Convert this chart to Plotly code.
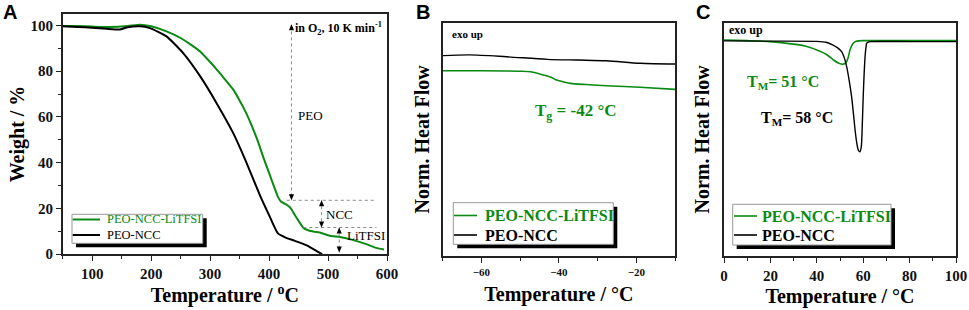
import plotly.graph_objects as go

# ---------------- data ----------------
# Panel A: TGA (weight % vs temperature °C)
tga_T_licf = [50, 75, 100, 130, 160, 181, 200, 226, 250, 266, 283, 300, 311, 320, 339, 350, 360, 370, 380, 390,
              400, 407, 415, 420, 428, 436, 445, 453, 458, 464, 475, 486, 503, 520, 540, 565, 580, 595]
tga_W_licf = [99.8, 99.7, 99.5, 99.3, 99.7, 100.3, 99.6, 97.4, 94.5, 91.8, 88.6, 84.0, 80.8, 78.0, 72.0, 67.2, 62.3, 56.5, 50.0, 42.5,
              35.5, 30.5, 25.0, 23.0, 21.8, 20.3, 16.5, 13.3, 11.5, 10.6, 9.8, 9.4, 8.0, 7.4, 6.3, 4.3, 2.8, 2.0]
tga_T_ncc = [50, 75, 100, 125, 147, 160, 181, 198, 226, 254, 283, 311, 339, 360, 384, 400, 415, 428, 441, 464, 486, 490]
tga_W_ncc = [99.6, 99.3, 99.0, 98.5, 98.2, 99.2, 99.6, 98.8, 95.2, 88.0, 77.8, 66.0, 53.0, 41.0, 26.0, 17.0, 9.0, 7.2, 6.0, 3.8, 0.5, 0.0]

# Panel B: DSC low temperature (normalized heat flow, arb. units)
dscB_T_licf = [-70, -60, -50, -47, -44, -42, -40.6, -38.5, -37, -33, -27.7, -19, -10]
dscB_H_licf = [7.94, 7.94, 7.92, 7.89, 7.76, 7.66, 7.54, 7.45, 7.40, 7.35, 7.30, 7.23, 7.14]
dscB_T_ncc = [-70, -63, -53.5, -43, -35, -27.7, -19, -10]
dscB_H_ncc = [8.59, 8.62, 8.54, 8.43, 8.40, 8.37, 8.26, 8.23]

# Panel C: DSC melting (normalized heat flow, arb. units)
dscC_T_licf = [0, 10, 20, 30, 35, 40, 44, 47, 49, 51, 52.5, 53.5, 54.3, 55.7, 57, 58, 60, 80, 100]
dscC_H_licf = [9.26, 9.23, 9.19, 9.08, 9.0, 8.83, 8.65, 8.42, 8.28, 8.22, 8.28, 8.5, 8.83, 9.12, 9.2, 9.22, 9.23, 9.23, 9.23]
dscC_T_ncc = [0, 20, 40, 44, 47, 49, 50.7, 52, 52.9, 54, 55, 56, 56.5, 57.3, 57.9, 58.6, 59.2, 59.6, 60, 60.4,
              60.8, 61.2, 61.5, 62.2, 63, 80, 100]
dscC_H_ncc = [9.22, 9.21, 9.2, 9.16, 9.04, 8.92, 8.76, 8.45, 8.11, 7.5, 6.83, 5.9, 5.4, 4.8, 4.54, 4.47, 4.7, 5.6, 6.83, 7.8,
              8.54, 8.95, 9.12, 9.17, 9.19, 9.19, 9.19]

series_names = ["PEO-NCC-LiTFSI", "PEO-NCC"]
x_titles = ["Temperature / <sup>o</sup>C", "Temperature / °C", "Temperature / °C"]
y_titles = ["Weight / %", "Norm. Heat Flow", "Norm. Heat Flow"]

# ---------------- style ----------------
W_FIG, H_FIG = 969, 310
GREEN = "#0a8a12"
BLACK = "#000000"
SERIF = "Liberation Serif"
SANS = "Liberation Sans"
AX = "#222222"
TITLE_FONT = dict(family=SERIF, size=20, color="#000", weight="bold")


def X(px):
    return px / W_FIG


def Y(py):
    return 1 - py / H_FIG


fig = go.Figure()

# Panel A traces
fig.add_trace(go.Scatter(x=tga_T_licf, y=tga_W_licf, mode="lines", name=series_names[0],
                         line=dict(color=GREEN, width=2, shape="spline", smoothing=0.5),
                         xaxis="x", yaxis="y", showlegend=False))
fig.add_trace(go.Scatter(x=tga_T_ncc, y=tga_W_ncc, mode="lines", name=series_names[1],
                         line=dict(color=BLACK, width=2, shape="spline", smoothing=0.5),
                         xaxis="x", yaxis="y", showlegend=False))
# Panel B traces
fig.add_trace(go.Scatter(x=dscB_T_licf, y=dscB_H_licf, mode="lines", name=series_names[0],
                         line=dict(color=GREEN, width=1.6, shape="spline", smoothing=0.8),
                         xaxis="x2", yaxis="y2", showlegend=False))
fig.add_trace(go.Scatter(x=dscB_T_ncc, y=dscB_H_ncc, mode="lines", name=series_names[1],
                         line=dict(color=BLACK, width=1.4, shape="spline", smoothing=0.8),
                         xaxis="x2", yaxis="y2", showlegend=False))
# Panel C traces
fig.add_trace(go.Scatter(x=dscC_T_licf, y=dscC_H_licf, mode="lines", name=series_names[0],
                         line=dict(color=GREEN, width=1.6, shape="spline", smoothing=0.6),
                         xaxis="x3", yaxis="y3", showlegend=False))
fig.add_trace(go.Scatter(x=dscC_T_ncc, y=dscC_H_ncc, mode="lines", name=series_names[1],
                         line=dict(color=BLACK, width=1.4, shape="spline", smoothing=0.6),
                         xaxis="x3", yaxis="y3", showlegend=False))

common_x = dict(showline=True, linecolor=AX, linewidth=1.5, mirror=True, ticks="outside",
                ticklen=5, tickwidth=1.2, tickcolor=AX, showgrid=False, zeroline=False, automargin=False,
                tickfont=dict(family=SERIF, size=15, color="#111", weight="bold"))
plain_y = dict(showline=True, linecolor=AX, linewidth=1.5, mirror=True, ticks="", showticklabels=False,
               showgrid=False, zeroline=False, automargin=False)

fig.update_layout(
    template="none",
    width=W_FIG, height=H_FIG, margin=dict(l=0, r=0, t=0, b=0, pad=0, autoexpand=False),
    paper_bgcolor="white", plot_bgcolor="white",
    xaxis=dict(domain=[X(62.7), X(387)], range=[50, 600], anchor="y", tick0=0, dtick=100,
               minor=dict(dtick=50, ticks="outside", ticklen=3, tickcolor=AX),
               title=dict(text=x_titles[0], font=TITLE_FONT, standoff=7), **common_x),
    yaxis=dict(domain=[Y(254), Y(14)], range=[0, 105], anchor="x", tick0=0, dtick=20,
               minor=dict(dtick=10, ticks="outside", ticklen=3, tickcolor=AX),
               title=dict(text=y_titles[0], font=TITLE_FONT, standoff=0), **common_x),
    xaxis2=dict(domain=[X(442.7), X(675)], range=[-70, -10], anchor="y2", tick0=-60, dtick=20,
                minor=dict(dtick=10, ticks="outside", ticklen=3, tickcolor=AX),
                title=dict(text=x_titles[1], font=TITLE_FONT, standoff=10),
                **{**common_x, "tickfont": dict(family=SERIF, size=11, color="#111", weight="bold")}),
    yaxis2=dict(domain=[Y(256), Y(22.7)], range=[0, 10], anchor="x2",
                title=dict(text=y_titles[1], font=TITLE_FONT, standoff=6), **plain_y),
    xaxis3=dict(domain=[X(724), X(956)], range=[0, 100], anchor="y3", tick0=0, dtick=20,
                minor=dict(dtick=10, ticks="outside", ticklen=3, tickcolor=AX),
                title=dict(text=x_titles[2], font=TITLE_FONT, standoff=6), **common_x),
    yaxis3=dict(domain=[Y(256), Y(22.7)], range=[0, 10], anchor="x3",
                title=dict(text=y_titles[2], font=TITLE_FONT, standoff=7), **plain_y),
)

shapes = []
ann = []


def text(x, y, s, size, color="#000", weight="normal", family=SERIF, xanchor="center",
         ref="paper", angle=0):
    ann.append(dict(x=x, y=y, xref=ref if ref == "paper" else "x", yref=ref if ref == "paper" else "y",
                    xanchor=xanchor, yanchor="middle", showarrow=False, text=s, textangle=angle,
                    font=dict(family=family, size=size, color=color, weight=weight)))


# ---- panel A guide lines and arrows ----
DOT = dict(color="#8a8a8a", width=1, dash="dot")
shapes.append(dict(type="line", xref="x", yref="y", x0=438, x1=438, y0=100, y1=23.5, line=DOT))
shapes.append(dict(type="line", xref="x", yref="y", x0=430, x1=582, y0=23.5, y1=23.5, line=DOT))
shapes.append(dict(type="line", xref="x", yref="y", x0=458, x1=582, y0=11.6, y1=11.6, line=DOT))
shapes.append(dict(type="line", xref="x", yref="y", x0=489, x1=489, y0=23.5, y1=11.6, line=DOT))
shapes.append(dict(type="line", xref="x", yref="y", x0=519, x1=519, y0=11.6, y1=0.7, line=DOT))

PX_PER_C = (387 - 62.7) / 550.0   # panel A x scale (px per °C)
PX_PER_W = (254 - 14) / 105.0     # panel A y scale (px per %)


def head(x, y, up):
    """small filled arrow head whose tip is at (x, y) in panel-A data units"""
    hw = 2.6 / PX_PER_C
    hl = 6.0 / PX_PER_W
    yb = y - hl if up else y + hl
    shapes.append(dict(type="path", xref="x", yref="y",
                       path=f"M {x - hw},{yb} L {x + hw},{yb} L {x},{y} Z",
                       fillcolor="#000", line=dict(width=0), layer="above"))


head(438, 23.5, False)
head(438, 100.5, True)
head(489, 23.5, True)
head(489, 11.6, False)
head(519, 11.6, True)
head(519, 0.7, False)

text(440, 98.5, "in O<sub>2</sub>, 10 K min<sup>-1</sup>", 12, weight="bold", xanchor="left", ref="data")
text(470, 60.5, "PEO", 13, ref="data")
text(520, 17.4, "NCC", 13, ref="data")
text(564, 8.3, "LiTFSI", 13, ref="data")

# ---- panel B / C text ----
text(X(450), Y(34), "exo up", 11, weight="bold", xanchor="left")
text(X(727), Y(29.5), "exo up", 12, weight="bold", xanchor="left")
text(X(575), Y(112), "T<sub>g</sub> = -42 °C", 17, color=GREEN, weight="bold")
text(X(782.5), Y(82), "T<sub>M</sub>= 51 °C", 16, color=GREEN, weight="bold")
text(X(797), Y(119), "T<sub>M</sub>= 58 °C", 16, weight="bold")

# ---- panel letters ----
for txt, px in (("A", 9.5), ("B", 422.5), ("C", 702.5)):
    text(X(px), Y(12), txt, 20, weight="bold", family=SANS)

# ---- legends (box with drop shadow) ----
legends = [
    # box x0, y0, x1, y1, line x0, x1, text x, row ys, font size, weight
    (72, 214.3, 202.7, 243.3, 72.7, 100, 104.5, (219.5, 235), 12.5, "normal"),
    (453.3, 202.7, 613.3, 244.3, 454, 477, 483.3, (215.5, 235), 16, "bold"),
    (732.7, 204.3, 891, 245, 734, 757, 760, (216, 235), 16, "bold"),
]
for bx0, by0, bx1, by1, lx0, lx1, tx, rows, fs, wt in legends:
    shapes.append(dict(type="rect", xref="paper", yref="paper", x0=X(bx0 + 4), x1=X(bx1 + 4),
                       y0=Y(by1 + 4), y1=Y(by0 + 4), fillcolor="#000", line=dict(width=0), layer="above"))
    shapes.append(dict(type="rect", xref="paper", yref="paper", x0=X(bx0), x1=X(bx1),
                       y0=Y(by1), y1=Y(by0), fillcolor="white", line=dict(color="#999", width=1), layer="above"))
    for name, col, ry in zip(series_names, (GREEN, BLACK), rows):
        shapes.append(dict(type="line", xref="paper", yref="paper", x0=X(lx0), x1=X(lx1), y0=Y(ry), y1=Y(ry),
                           line=dict(color=col, width=2 if fs < 14 else 1.6), layer="above"))
        text(X(tx), Y(ry), name, fs, color=col, weight=wt, xanchor="left")

fig.update_layout(shapes=shapes, annotations=ann)
fig.write_html("out.html", post_script="document.body.style.margin='0';",
               config={"displayModeBar": False})
